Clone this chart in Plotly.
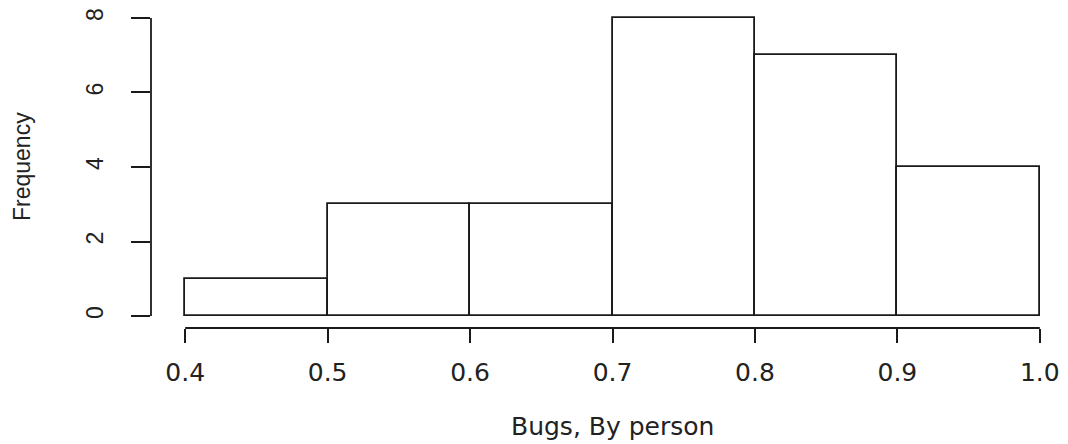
import plotly.graph_objects as go

# Histogram of bugs per person: bin edges and counts
bin_edges = [0.4, 0.5, 0.6, 0.7, 0.8, 0.9, 1.0]
counts = [1, 3, 3, 8, 7, 4]

x_ticks = [0.4, 0.5, 0.6, 0.7, 0.8, 0.9, 1.0]
x_tick_labels = ["0.4", "0.5", "0.6", "0.7", "0.8", "0.9", "1.0"]
y_ticks = [0, 2, 4, 6, 8]
y_tick_labels = ["0", "2", "4", "6", "8"]

x_title = "Bugs, By person"
y_title = "Frequency"

mids = [(a + b) / 2 for a, b in zip(bin_edges[:-1], bin_edges[1:])]
widths = [b - a for a, b in zip(bin_edges[:-1], bin_edges[1:])]

INK = "#1a1a1a"
W, H = 1068, 444
L, R, T, B = 151, 0, 6, 116
REGION_PX = 923  # full padded x region width; it runs a little past the right edge

# R-style range: data extent padded by 4% on each side
x_pad = 0.04 * (x_ticks[-1] - x_ticks[0])
y_pad = 0.04 * (y_ticks[-1] - y_ticks[0])
x_lo = x_ticks[0] - x_pad
x_per_px = (x_ticks[-1] - x_ticks[0] + 2 * x_pad) / REGION_PX
x_hi = x_lo + x_per_px * (W - L - R)

fig = go.Figure(
    go.Bar(
        x=mids,
        y=counts,
        width=widths,
        marker=dict(color="white", line=dict(color=INK, width=1.8)),
        hoverinfo="x+y",
    )
)

fig.update_layout(
    width=W,
    height=H,
    margin=dict(l=L, r=R, t=T, b=B, autoexpand=False),
    paper_bgcolor="white",
    plot_bgcolor="white",
    showlegend=False,
    bargap=0,
    xaxis=dict(
        range=[x_lo, x_hi],
        tickvals=x_ticks,
        ticktext=x_tick_labels,
        ticks="outside",
        ticklen=14,
        tickwidth=1.8,
        tickcolor=INK,
        showline=False,
        showgrid=False,
        zeroline=False,
        ticklabelstandoff=8,
        tickfont=dict(family="DejaVu Sans", size=25, color="#222"),
    ),
    yaxis=dict(
        range=[y_ticks[0] - y_pad, y_ticks[-1] + y_pad],
        tickvals=y_ticks,
        ticktext=y_tick_labels,
        ticks="outside",
        ticklen=19,
        tickwidth=1.8,
        tickcolor=INK,
        tickangle=-90,
        showline=False,
        showgrid=False,
        zeroline=False,
        ticklabelstandoff=19,
        tickfont=dict(family="Liberation Sans", size=23, color="#222"),
    ),
    shapes=[
        # x axis line from first to last tick
        dict(type="line", xref="x", yref="paper", x0=x_ticks[0], x1=x_ticks[-1],
             y0=0, y1=0, line=dict(color=INK, width=1.8)),
        # y axis line from first to last tick
        dict(type="line", xref="paper", yref="y", x0=0, x1=0,
             y0=y_ticks[0], y1=y_ticks[-1], line=dict(color=INK, width=1.8)),
    ],
    annotations=[
        dict(text=x_title, xref="x", yref="paper",
             x=(x_ticks[0] + x_ticks[-1]) / 2, y=0, yanchor="middle", yshift=-98,
             showarrow=False,
             font=dict(family="DejaVu Sans", size=25, color="#222")),
        dict(text=y_title, xref="paper", yref="paper", x=0, y=0.5,
             xanchor="center", yanchor="middle", xshift=-129, textangle=-90,
             showarrow=False,
             font=dict(family="Liberation Sans", size=23, color="#222")),
    ],
)

fig.write_html("out.html")
